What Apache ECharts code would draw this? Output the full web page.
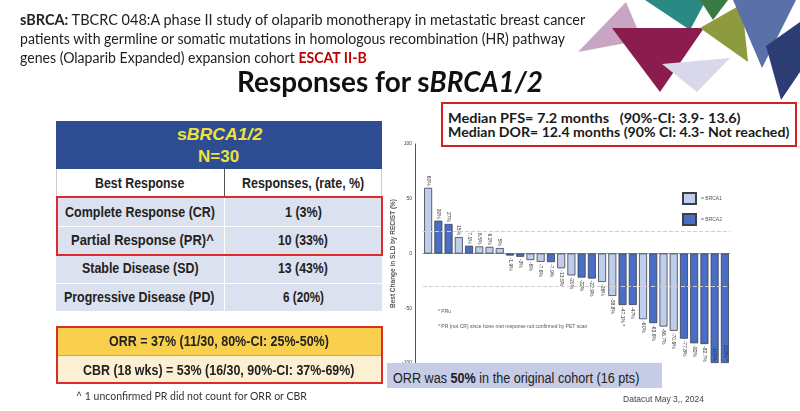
<!DOCTYPE html>
<html><head><meta charset="utf-8">
<script src="https://cdn.jsdelivr.net/npm/echarts@6/dist/echarts.min.js"></script>
<style>
html,body{margin:0;padding:0;background:#fff;width:800px;height:411px;overflow:hidden;position:relative;}
#chart{position:absolute;left:0;top:0;width:800px;height:411px;}
.box{position:absolute;box-sizing:border-box;}
.t{position:absolute;white-space:nowrap;line-height:1;}
</style></head><body>
<div id="chart"></div>
<script>
// ---------- data ----------
const categories = ['1','2','3','4','5','6','7','8','9','10','11','12','13','14','15','16','17','18','19','20','21','22','23','24','25','26','27','28','29','30'];
const values = [60,30,27,15,7.1,6.5,6.1,5,-1.9,-3,-6,-7.6,-7.9,-13.5,-20,-22,-22.9,-26,-38.8,-47.1,-47,-60,-63.6,-66.7,-70.6,-77.8,-82,-82.7,-100,-100];
const genes = ['BRCA1','BRCA2','BRCA2','BRCA1','BRCA2','BRCA1','BRCA1','BRCA1','BRCA2','BRCA2','BRCA1','BRCA1','BRCA2','BRCA1','BRCA1','BRCA2','BRCA2','BRCA1','BRCA1','BRCA2','BRCA2','BRCA1','BRCA2','BRCA1','BRCA1','BRCA2','BRCA2','BRCA2','BRCA2','BRCA2'];
const notes = ['','','','','','','','','','','','','','','','','','','','*','','','','','','','','','','*'];
const seriesNames = ['BRCA1','BRCA2'];
const refLines = [20,-30];
const yTicks = {min:-100,max:100,interval:50};

// ---------- chart ----------
const colors = {BRCA1:'#bfcfeb', BRCA2:'#4a6ec6'};
function itemLabel(v){
  if (v <= -100) return {position:'insideBottom', rotate:-90, align:'right', verticalAlign:'middle', distance:2, color:'#1c2a5a'};
  if (v >= 0) return {position:'top', rotate:-90, align:'right', verticalAlign:'middle', distance:2};
  return {position:'bottom', rotate:-90, align:'left', verticalAlign:'middle', distance:2};
}
function mkSeries(name, idx){
  const s = {
    name, type:'bar', barWidth:8, barGap:'-100%',
    itemStyle:{color:colors[name], borderColor:'#3a3f4a', borderWidth:0.8},
    label:{show:true, fontSize:5, color:'#333', fontFamily:'Liberation Sans',
      formatter:p=>values[p.dataIndex]+'%'+(notes[p.dataIndex]?' '+notes[p.dataIndex]:'')},
    data: values.map((v,i)=> genes[i]===name ? {value:v, label:itemLabel(v)} : '-')
  };
  if (idx===0) s.markLine = {silent:true, symbol:['none','none'], label:{show:false},
    lineStyle:{type:'dashed', color:'#cfcfcf', width:1}, data: refLines.map(y=>({yAxis:y}))};
  return s;
}
const tri = (pts, fill)=>({type:'polygon', z:-1, shape:{points:pts}, style:{fill}});
const chart = echarts.init(document.getElementById('chart'), null, {renderer:'canvas'});
chart.setOption({
  animation:false,
  grid:{left:423, top:144, width:307, height:219},
  xAxis:{type:'category', data:categories, axisLine:{onZero:true, lineStyle:{color:'#9a9a9a', width:1}},
    axisTick:{show:false}, axisLabel:{show:false}, splitLine:{show:false}},
  yAxis:{type:'value', min:yTicks.min, max:yTicks.max, interval:yTicks.interval, offset:8,
    axisLine:{show:true, lineStyle:{color:'#555', width:1}}, axisTick:{show:false}, splitLine:{show:false},
    axisLabel:{fontSize:5, color:'#444', margin:3},
    name:'Best Change in SLD by RECIST (%)', nameLocation:'middle', nameGap:18,
    nameTextStyle:{fontSize:6.5, fontWeight:'bold', color:'#555', fontFamily:'Liberation Sans'}},
  legend:{orient:'vertical', left:677, top:187, itemWidth:13, itemHeight:11, itemGap:8, icon:'rect',
    data:seriesNames, formatter:n=>'= '+n, textStyle:{fontSize:5, color:'#555'}},
  series: seriesNames.map(mkSeries),
  graphic:[
    {type:'text', left:438, top:309, style:{text:'* PRu', fontSize:5, fill:'#555'}},
    {type:'text', left:438, top:324, style:{text:'* PR (not CR) since bone met response not confirmed by PET scan', fontSize:5, fill:'#555'}},
    tri([[578,52],[626,2],[642,40]], '#c9a5c4'),
    tri([[645,0],[706,0],[690,30]], '#2a8a83'),
    tri([[612,28],[704,28],[660,92]], '#8a1d4d'),
    tri([[700,0],[728,0],[713,20]], '#3a7a45'),
    tri([[700,28],[742,4],[748,62]], '#8d9a3e'),
    tri([[662,64],[730,58],[697,92]], '#d8d8ea'),
    tri([[733,0],[796,0],[762,68]], '#5a70a8'),
    tri([[766,46],[800,22],[800,72],[781,100]], '#2b3d72')
  ]
});

// ---------- slide overlay ----------
function box(x,y,w,h,css){const d=document.createElement('div');d.className='box';
  Object.assign(d.style,{left:x+'px',top:y+'px',width:w+'px',height:h+'px'},css||{});document.body.appendChild(d);return d;}
function txt(html,x0,x1,cy,font,color){const s=document.createElement('span');s.className='t';
  s.innerHTML=html;s.style.font=font;s.style.color=color||'#222';document.body.appendChild(s);
  const w=s.offsetWidth,h=s.offsetHeight;
  s.style.left=x0+'px';s.style.top=(cy-h/2)+'px';s.style.transformOrigin='0 50%';
  s.style.transform='scaleX('+((x1-x0)/w).toFixed(4)+')';return s;}
function ctxt(html,cx,w,cy,font,color){return txt(html,cx-w/2,cx+w/2,cy,font,color);}

const LAT='Lato, "Open Sans", sans-serif', ARI='"Liberation Sans", Arial, sans-serif';
// header text
txt('<b style="font-family:'+ARI+'">sBRCA:</b> TBCRC 048:A phase II study of olaparib monotherapy in metastatic breast cancer',20,585,19,'14.5px '+LAT,'#222');
txt('patients with germline or somatic mutations in homologous recombination (HR) pathway',20,565,38.5,'14.5px '+LAT,'#222');
txt('genes (Olaparib Expanded) expansion cohort <b style="color:#c00000">ESCAT II-B</b>',20,367,57.5,'14.5px '+LAT,'#222');
txt('Responses for s<i>BRCA1/2</i>',237,543,80.5,'bold 29px '+LAT,'#111');

// table
box(56,121,326,48,{background:'#2d4c92'});
box(56,169,326,28,{background:'#fff',borderLeft:'1px solid #ccc',borderRight:'1px solid #ccc'});
box(223.5,169,1.2,28,{background:'#555'});
box(56,197,326,114,{background:'#dce1ef'});
[225.5,255,283].forEach(y=>box(56,y,326,1,{background:'#fff'}));
box(223.5,197,1.2,114,{background:'#fff'});
box(56,327,326,28,{background:'#f8d04e'});
box(56,355,326,29,{background:'#fdf0d2'});
box(56,354.5,326,1,{background:'#c9a95a'});
box(55.5,196,327,60,{border:'2px solid #dd2a2a'});
box(55.5,326,327,58,{border:'2px solid #dd2a2a'});

const TB='bold 15px '+ARI;
ctxt('s<i>BRCA1/2</i>',219.5,85,135,'bold 17px '+ARI,'#efe23c');
ctxt('N=30',218.5,41,156.5,'bold 17px '+ARI,'#efe23c');
ctxt('Best Response',139.5,89,182.7,TB,'#222');
ctxt('Responses, (rate, %)',303,122.6,182.7,TB,'#222');
ctxt('Complete Response (CR)',140,150,211.5,TB,'#222');
ctxt('1 (3%)',303.3,36.7,211.5,TB,'#222');
ctxt('Partial Response (PR)^',142,142.3,239.5,TB,'#222');
ctxt('10 (33%)',303.3,50,239.5,TB,'#222');
ctxt('Stable Disease (SD)',140,116.6,267.5,TB,'#222');
ctxt('13 (43%)',303.3,50,267.5,TB,'#222');
ctxt('Progressive Disease (PD)',139.7,150.7,296.5,TB,'#222');
ctxt('6 (20%)',303.3,41.3,296.5,TB,'#222');
ctxt('ORR = 37% (11/30, 80%-CI: 25%-50%)',219.3,220,340.7,TB,'#222');
ctxt('CBR (18 wks) = 53% (16/30, 90%-CI: 37%-69%)',218.3,271.3,369.3,TB,'#222');
txt('^ 1 unconfirmed PR did not count for ORR or CBR',76,307,395.5,'11px '+LAT,'#333');

// median box
box(441,102,356,45,{border:'2px solid #d42020',background:'#fff'});
txt('Median PFS= 7.2 months&nbsp;&nbsp; (90%-CI: 3.9- 13.6)',448.3,741,117.5,'bold 13.5px '+LAT,'#1a1a1a');
txt('Median DOR= 12.4 months (90% CI: 4.3- Not reached)',448.3,789.3,132,'bold 13.5px '+LAT,'#1a1a1a');

// ORR note
box(387,363,275,25,{background:'#c6cbe6'});
txt('ORR was <b>50%</b> in the original cohort (16 pts)',393.3,639.3,377.5,'15.5px '+ARI,'#222');
txt('Datacut May 3,, 2024',622.7,704,399.3,'9px '+ARI,'#444');
</script>
</body></html>
